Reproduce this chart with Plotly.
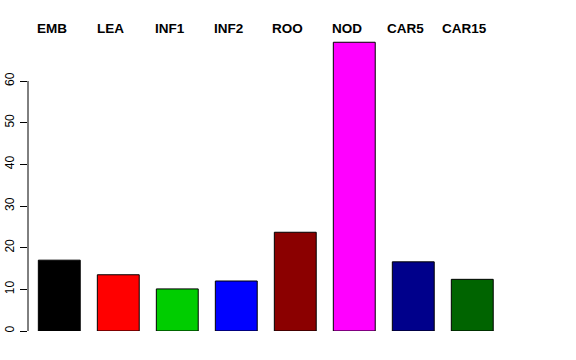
import plotly.graph_objects as go

categories = ["EMB", "LEA", "INF1", "INF2", "ROO", "NOD", "CAR5", "CAR15"]
values = [17.0, 13.5, 10.1, 12.0, 23.7, 69.3, 16.6, 12.4]
colors = ["#000000", "#FF0000", "#00CD00", "#0000FF", "#8B0000", "#FF00FF", "#00008B", "#006400"]
y_ticks = [0, 10, 20, 30, 40, 50, 60]

fig = go.Figure()
fig.add_trace(go.Bar(
    x=list(range(len(categories))), y=values,
    marker=dict(color=colors, line=dict(color="#000000", width=1)),
    width=0.71, hoverinfo="skip",
))

for i, c in enumerate(categories):
    fig.add_annotation(x=i, y=1, xref="x", yref="paper", yanchor="bottom",
                       text="<b>%s</b>" % c, showarrow=False, xshift=-7.5, yshift=-7,
                       font=dict(family="Liberation Sans, Arial, sans-serif", size=13.5, color="#000000"))

fig.add_shape(type="line", xref="paper", yref="y", x0=0, x1=0, y0=0, y1=60,
              line=dict(color="#000000", width=1))

fig.update_layout(
    width=576, height=360,
    margin=dict(l=28, r=76, t=31, b=29, autoexpand=False),
    paper_bgcolor="white", plot_bgcolor="white",
    showlegend=False,
    font=dict(family="Liberation Sans, Arial, sans-serif", size=12, color="#000000"),
    xaxis=dict(range=[-0.53, 7.47], showticklabels=False, showgrid=False, automargin=False,
               zeroline=False, showline=False, ticks=""),
    yaxis=dict(range=[0, 72], tickvals=y_ticks, ticktext=[str(v) for v in y_ticks],
               ticks="outside", ticklen=7, tickcolor="#000000", tickangle=-90, automargin=False,
               showgrid=False, zeroline=False, showline=False, ticklabelstandoff=1,
               tickfont=dict(size=12)),
)

fig.write_html("out.html", config={"displayModeBar": False, "staticPlot": True},
               post_script="document.body.style.margin='0';document.body.style.overflow='hidden';")
